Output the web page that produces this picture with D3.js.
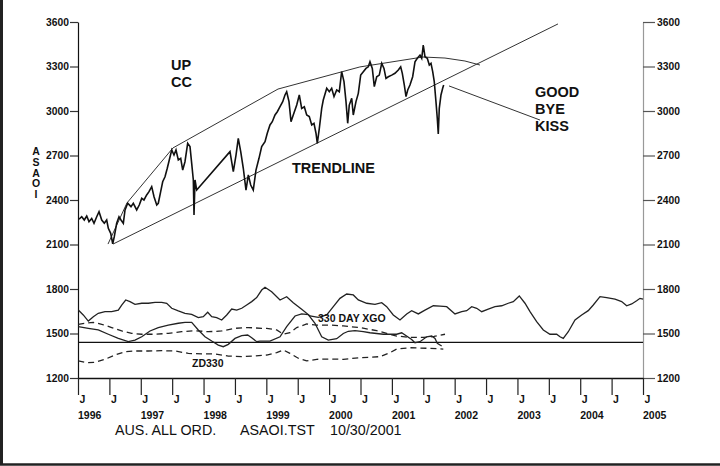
<!DOCTYPE html>
<html>
<head>
<meta charset="utf-8">
<script src="https://cdn.jsdelivr.net/npm/d3@7"></script>
<style>
  body { margin: 0; background: #fff; }
  svg { display: block; font-family: "Liberation Sans", Arial, sans-serif; }
</style>
</head>
<body>
<script>
// ---- data (decimal years / index points) ----
var priceDates = [1996.016,1996.059,1996.100,1996.139,1996.175,1996.218,1996.255,1996.298,1996.335,1996.378,
  1996.419,1996.457,1996.483,1996.521,1996.553,1996.578,1996.616,1996.653,1996.685,1996.722,
  1996.749,1996.792,1996.844,1996.881,1996.935,1996.976,1997.015,1997.051,1997.094,1997.131,
  1997.174,1997.211,1997.254,1997.279,1997.317,1997.349,1997.386,1997.422,1997.454,1997.493,
  1997.529,1997.561,1997.598,1997.636,1997.668,1997.704,1997.747,1997.784,1997.811,1997.837,
  1997.848,1997.864,1997.891,1998.421,1998.474,1998.517,1998.553,1998.592,1998.633,1998.676,
  1998.713,1998.751,1998.792,1998.835,1998.883,1998.926,1998.979,1999.015,1999.058,1999.095,
  1999.138,1999.175,1999.218,1999.261,1999.297,1999.324,1999.361,1999.393,1999.429,1999.484,
  1999.525,1999.563,1999.605,1999.643,1999.684,1999.723,1999.759,1999.791,1999.812,1999.844,
  1999.882,1999.907,1999.962,2000.003,2000.041,2000.078,2000.121,2000.162,2000.200,2000.237,
  2000.269,2000.296,2000.321,2000.360,2000.385,2000.428,2000.465,2000.503,2000.545,2000.587,
  2000.624,2000.651,2000.688,2000.720,2000.758,2000.799,2000.838,2000.874,2000.906,2000.943,
  2000.997,2001.049,2001.102,2001.140,2001.166,2001.198,2001.225,2001.252,2001.288,2001.331,
  2001.368,2001.405,2001.448,2001.475,2001.500,2001.527,2001.564,2001.596,2001.623,2001.650,
  2001.675,2001.702,2001.723,2001.739,2001.755,2001.782,2001.809,2001.825];
var priceValues = [2270,2287,2265,2292,2254,2276,2243,2287,2321,2265,
  2243,2265,2209,2175,2105,2153,2243,2287,2265,2243,
  2333,2378,2355,2378,2333,2366,2411,2400,2434,2456,
  2490,2422,2366,2378,2456,2523,2557,2614,2670,2737,
  2703,2737,2670,2681,2602,2658,2782,2760,2647,2535,
  2299,2535,2467,2726,2591,2703,2816,2726,2614,2467,
  2569,2501,2467,2602,2681,2760,2793,2850,2906,2928,
  2973,2995,3029,3063,3108,3130,3063,2928,2973,3040,
  3108,3018,3029,2973,2962,2906,2917,2850,2782,2883,
  3018,3074,3153,3130,3153,3097,3142,3130,3265,3198,
  3063,2917,3040,3085,2973,3063,3119,3242,3265,3287,
  3298,3332,3287,3164,3231,3242,3321,3287,3220,3231,
  3242,3254,3276,3298,3254,3175,3097,3142,3175,3231,
  3332,3355,3377,3355,3445,3366,3355,3310,3321,3265,
  3198,3063,2951,2845,3018,3108,3153,3175];

// 330 day cycle projection (solid, runs to 2005)
var xgoDates = [1996.005,1996.084,1996.164,1996.244,1996.323,1996.430,1996.537,1996.642,1996.696,1996.760,
  1996.828,1996.908,1997.015,1997.120,1997.227,1997.333,1997.413,1997.493,1997.598,1997.704,
  1997.811,1997.916,1997.996,1998.066,1998.130,1998.209,1998.289,1998.369,1998.448,1998.528,
  1998.608,1998.687,1998.767,1998.846,1998.926,1998.979,1999.085,1999.218,1999.324,1999.429,
  1999.563,1999.695,1999.828,1999.962,2000.067,2000.173,2000.280,2000.385,2000.465,2000.599,
  2000.731,2000.838,2000.917,2001.022,2001.129,2001.236,2001.315,2001.421,2001.527,2001.660,
  2001.766,2001.873,2002.005,2002.112,2002.192,2002.271,2002.351,2002.431,2002.535,2002.642,
  2002.749,2002.854,2002.934,2003.029,2003.120,2003.200,2003.306,2003.412,2003.518,2003.625,
  2003.678,2003.730,2003.810,2003.917,2004.023,2004.128,2004.208,2004.315,2004.421,2004.554,
  2004.660,2004.740,2004.820,2004.899,2004.952,2005.000];
var xgoValues = [1658,1625,1584,1613,1636,1647,1647,1658,1692,1726,
  1715,1697,1704,1704,1710,1710,1704,1670,1652,1636,
  1629,1607,1613,1643,1613,1607,1591,1625,1665,1658,
  1670,1692,1715,1742,1793,1812,1782,1726,1748,1708,
  1663,1618,1609,1625,1681,1737,1766,1760,1726,1704,
  1697,1708,1681,1625,1591,1632,1654,1632,1658,1687,
  1685,1681,1632,1647,1654,1681,1670,1647,1665,1681,
  1687,1704,1715,1753,1704,1647,1580,1524,1495,1495,
  1478,1467,1512,1591,1625,1654,1692,1748,1742,1731,
  1715,1687,1699,1721,1737,1731];

// second oscillator (solid)
var oscDates = [1996.005,1996.164,1996.323,1996.483,1996.642,1996.801,1996.908,1997.015,1997.147,1997.279,
  1997.438,1997.598,1997.704,1997.811,1997.916,1998.023,1998.130,1998.235,1998.314,1998.394,
  1998.501,1998.608,1998.703,1998.767,1998.846,1998.899,1999.058,1999.218,1999.324,1999.457,
  1999.563,1999.668,1999.775,1999.882,1999.987,2000.121,2000.226,2000.306,2000.412,2000.545,
  2000.651,2000.863,2001.076,2001.156,2001.315,2001.368,2001.448,2001.554,2001.634,2001.687,
  2001.723,2001.793];
var oscValues = [1546,1535,1524,1495,1467,1445,1456,1478,1517,1540,
  1557,1569,1575,1575,1524,1478,1449,1422,1411,1427,
  1467,1485,1490,1472,1445,1449,1449,1478,1546,1618,
  1632,1627,1569,1478,1456,1465,1500,1515,1519,1512,
  1505,1495,1495,1505,1460,1438,1445,1478,1483,1467,
  1434,1416];

// upper dashed band
var upperDates = [1996.005,1996.112,1996.244,1996.378,1996.537,1996.696,1996.855,1997.015,1997.227,1997.438,
  1997.652,1997.864,1998.076,1998.289,1998.501,1998.713,1998.926,1999.006,1999.165,1999.270,
  1999.377,1999.484,1999.643,1999.802,2000.014,2000.226,2000.333,2000.492,2000.758,2000.917,
  2001.076,2001.288,2001.500,2001.671,2001.846];
var upperValues = [1562,1569,1575,1562,1540,1517,1501,1495,1495,1501,
  1512,1519,1512,1517,1535,1540,1535,1535,1524,1495,
  1505,1540,1564,1557,1557,1551,1546,1540,1519,1501,
  1483,1474,1474,1480,1495];

// ZD330 (lower dashed)
var zdDates = [1996.005,1996.139,1996.271,1996.430,1996.589,1996.749,1996.908,1997.120,1997.333,1997.545,
  1997.757,1997.970,1998.182,1998.394,1998.608,1998.819,1999.006,1999.165,1999.270,1999.377,
  1999.509,1999.643,1999.802,2000.014,2000.226,2000.492,2000.651,2000.810,2000.970,2001.076,
  2001.288,2001.607,2001.819];
var zdValues = [1315,1303,1306,1326,1355,1377,1382,1382,1384,1382,
  1366,1362,1362,1348,1344,1348,1355,1371,1389,1366,
  1333,1315,1326,1328,1326,1337,1339,1344,1371,1395,
  1404,1400,1395];

var baseLevel = 1440;

// channel lines drawn on the price
var upChannel = [[1996.478,2103],[1996.780,2380],[1997.513,2751],[1999.186,3148],[2000.490,3297],
  [2001.495,3364],[2001.846,3357],[2002.164,3337],[2002.403,3310]];
var trendLine = [[1996.558,2103],[2003.646,3587]];
var kissPointer = [[2001.910,3169],[2003.360,2939]];

var yTicks = [1200,1500,1800,2100,2400,2700,3000,3300,3600];
var halfYears = [1996,1996.5,1997,1997.5,1998,1998.5,1999,1999.5,2000,2000.5,
  2001,2001.5,2002,2002.5,2003,2003.5,2004,2004.5,2005];
var yearLabels = [1996,1997,1998,1999,2000,2001,2002,2003,2004,2005];

// ---- layout ----
var W = 720, H = 466;
var plotL = 78, plotR = 643, plotT = 22, plotB = 378;

var svg = d3.select("body").append("svg")
    .attr("width", W)
    .attr("height", H);

var x = d3.scaleLinear().domain([1996, 2005]).range([plotL, plotR]);
var y = d3.scaleLinear().domain([1200, 3600]).range([plotB, plotT]);

function zip(ds, vs) { return ds.map(function(d, i) { return [d, vs[i]]; }); }

var line = d3.line()
    .x(function(d) { return x(d[0]); })
    .y(function(d) { return y(d[1]); });

// frame
svg.append("line").attr("x1", 1.5).attr("x2", 1.5).attr("y1", 0).attr("y2", 465)
    .attr("stroke", "#222").attr("stroke-width", 3);
svg.append("line").attr("x1", 0).attr("x2", W).attr("y1", 464.5).attr("y2", 464.5)
    .attr("stroke", "#222").attr("stroke-width", 2.5);

// axes
var gl = svg.append("g")
    .attr("transform", "translate(" + plotL + ",0)")
    .call(d3.axisLeft(y).tickValues(yTicks).tickSize(8).tickSizeOuter(0).tickPadding(1));
gl.select(".domain").attr("stroke", "#111").attr("stroke-width", 1.2);
gl.selectAll(".tick line").attr("stroke", "#333").attr("stroke-width", 1.2);

var gr = svg.append("g")
    .attr("transform", "translate(" + plotR + ",0)")
    .call(d3.axisRight(y).tickValues(yTicks).tickSize(12).tickSizeOuter(0).tickPadding(2));
gr.select(".domain").attr("stroke", "#999").attr("stroke-width", 1.2);
gr.selectAll(".tick line").attr("stroke", "#555").attr("stroke-width", 1.2);

[gl, gr].forEach(function(g) {
  g.selectAll(".tick text")
      .text(function(d) { return d; })
      .attr("font-size", "10.3px")
      .attr("font-weight", "bold")
      .attr("font-family", "'Liberation Sans', Arial, sans-serif")
      .attr("fill", "#111");
});

var gb = svg.append("g")
    .attr("transform", "translate(0," + plotB + ")")
    .call(d3.axisBottom(x).tickValues(halfYears).tickSize(17).tickSizeOuter(0)
      .tickFormat(function() { return "J"; }));
gb.select(".domain").attr("stroke", "#111").attr("stroke-width", 1.3);
gb.selectAll(".tick line").attr("stroke", "#222").attr("stroke-width", 1.2);
gb.selectAll(".tick text")
    .attr("text-anchor", "start")
    .attr("x", 1)
    .attr("y", 18)
    .attr("font-size", "10.5px")
    .attr("font-weight", "bold")
    .attr("font-family", "'Liberation Sans', Arial, sans-serif")
    .attr("fill", "#111");

svg.selectAll("text.year")
    .data(yearLabels)
  .enter().append("text")
    .attr("class", "year")
    .attr("x", function(d) { return x(d); })
    .attr("y", 419)
    .attr("font-size", "10.5px")
    .attr("font-weight", "bold")
    .attr("fill", "#111")
    .text(function(d) { return d; });

// vertical axis title, stacked letters
svg.selectAll("text.ylab")
    .data("ASAOI".split(""))
  .enter().append("text")
    .attr("class", "ylab")
    .attr("x", 36)
    .attr("y", function(d, i) { return 155 + i * 10.8; })
    .attr("text-anchor", "middle")
    .attr("font-size", "10.5px")
    .attr("font-weight", "bold")
    .attr("fill", "#111")
    .text(function(d) { return d; });

// reference line
svg.append("line")
    .attr("x1", x(1996)).attr("x2", x(2005))
    .attr("y1", y(baseLevel)).attr("y2", y(baseLevel))
    .attr("stroke", "#111").attr("stroke-width", 1.3);

// oscillators
svg.append("path").datum(zip(upperDates, upperValues))
    .attr("d", line).attr("fill", "none")
    .attr("stroke", "#222").attr("stroke-width", 1.3).attr("stroke-dasharray", "6,4");
svg.append("path").datum(zip(zdDates, zdValues))
    .attr("d", line).attr("fill", "none")
    .attr("stroke", "#222").attr("stroke-width", 1.3).attr("stroke-dasharray", "6,4");
svg.append("path").datum(zip(oscDates, oscValues))
    .attr("d", line).attr("fill", "none")
    .attr("stroke", "#222").attr("stroke-width", 1.3);
svg.append("path").datum(zip(xgoDates, xgoValues))
    .attr("d", line).attr("fill", "none")
    .attr("stroke", "#222").attr("stroke-width", 1.3);

// channel / trend lines
[upChannel, trendLine, kissPointer].forEach(function(pts) {
  svg.append("path").datum(pts)
      .attr("d", line).attr("fill", "none")
      .attr("stroke", "#333").attr("stroke-width", 1);
});

// price
svg.append("path").datum(zip(priceDates, priceValues))
    .attr("d", line).attr("fill", "none")
    .attr("stroke", "#111").attr("stroke-width", 1.6);

// annotations
function note(txt, px, py, size) {
  svg.append("text")
      .attr("x", px).attr("y", py)
      .attr("font-size", size)
      .attr("font-weight", "bold")
      .attr("fill", "#111")
      .text(txt);
}
note("UP", 171, 70, "14.5px");
note("CC", 171, 87, "14.5px");
note("TRENDLINE", 292, 173, "14.5px");
note("GOOD", 535, 97, "14.5px");
note("BYE", 535, 114, "14.5px");
note("KISS", 535, 131, "14.5px");
note("330 DAY XGO", 318, 322, "10.5px");
note("ZD330", 192, 367, "10.5px");

// footer
svg.append("text").attr("x", 115).attr("y", 435).attr("font-size", "14.3px").attr("fill", "#111").text("AUS. ALL ORD.");
svg.append("text").attr("x", 240).attr("y", 435).attr("font-size", "14.3px").attr("fill", "#111").text("ASAOI.TST");
svg.append("text").attr("x", 330).attr("y", 435).attr("font-size", "14.3px").attr("fill", "#111").text("10/30/2001");
</script>
</body>
</html>
